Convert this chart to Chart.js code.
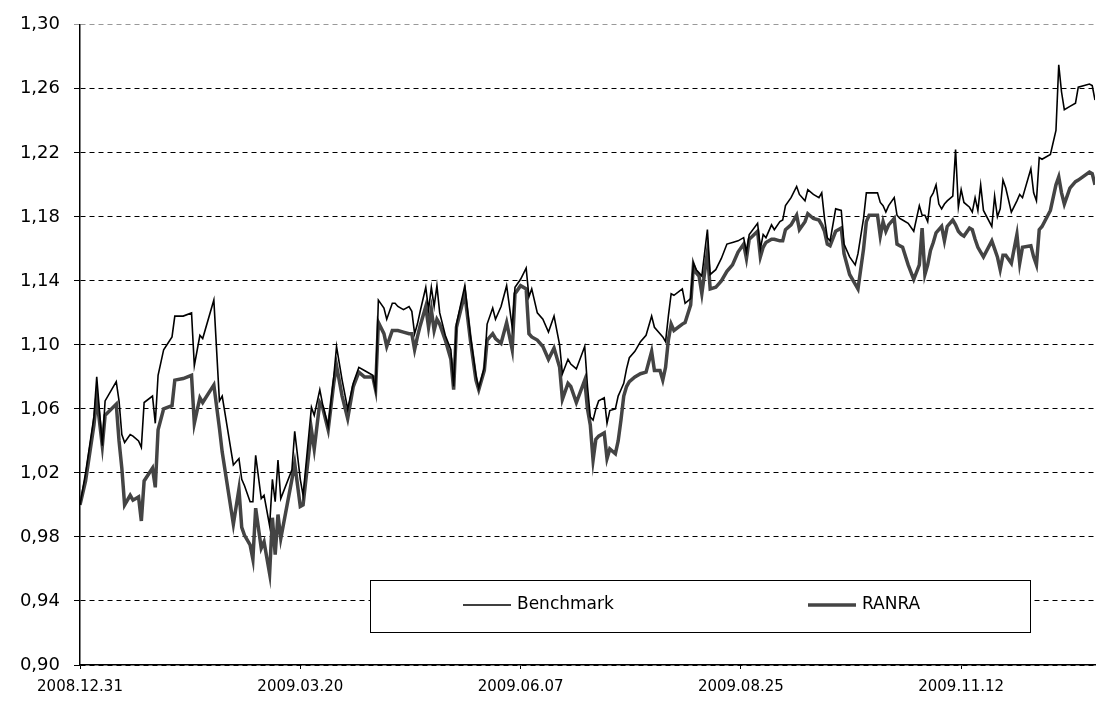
<!DOCTYPE html>
<html>
<head>
<meta charset="utf-8">
<script src="https://cdn.jsdelivr.net/npm/chart.js@4.4.0/dist/chart.umd.min.js"></script>
<style>
  body { margin: 0; background: #fff; }
  canvas { display: block; }
</style>
</head>
<body>
<canvas id="myChart" width="1097" height="704"></canvas>
<script>
// days since 2008.12.31
var days = [0, 2, 5, 6, 8, 9, 13, 14, 15, 16, 18, 19, 21, 22, 23, 26, 27, 28, 30, 33,
  34, 37, 40, 41, 43, 44, 48, 50, 51, 55, 57, 58, 59, 61, 62, 63, 65, 66, 68, 69,
  70, 71, 72, 76, 77, 79, 80, 83, 84, 86, 87, 89, 91, 92, 94, 96, 98, 100, 102, 105,
  106, 107, 109, 110, 112, 113, 114, 116, 118, 119, 120, 121, 122, 124, 125, 126, 127, 128, 129, 131,
  133, 134, 135, 138, 140, 142, 143, 145, 146, 148, 149, 151, 153, 155, 156, 158, 160, 161, 162, 164,
  166, 168, 170, 172, 173, 175, 176, 178, 181, 182, 183, 184, 185, 186, 188, 189, 190, 192, 193, 194,
  195, 196, 197, 199, 201, 203, 205, 206, 208, 209, 210, 211, 212, 213, 216, 217, 219, 220, 221, 222,
  223, 225, 226, 228, 230, 232, 234, 236, 238, 239, 240, 243, 244, 245, 246, 248, 249, 251, 252, 253,
  255, 257, 258, 260, 261, 263, 265, 266, 267, 268, 269, 271, 273, 274, 276, 278, 279, 281, 282, 283,
  286, 287, 288, 289, 290, 292, 293, 294, 295, 297, 299, 301, 302, 303, 304, 305, 306, 307, 308, 309,
  310, 311, 313, 314, 315, 316, 317, 319, 320, 321, 322, 323, 324, 327, 328, 329, 330, 331, 332, 334,
  336, 337, 338, 341, 342, 343, 344, 345, 348, 350, 351, 352, 353, 355, 357, 358, 362, 363, 364];

var benchmark = [1.000, 1.020, 1.055, 1.080, 1.037, 1.065, 1.077, 1.065, 1.044, 1.039, 1.044, 1.043, 1.040, 1.036, 1.064, 1.068, 1.051, 1.081, 1.097, 1.105,
  1.118, 1.118, 1.120, 1.087, 1.106, 1.104, 1.128, 1.065, 1.068, 1.025, 1.029, 1.016, 1.012, 1.002, 1.002, 1.031, 1.004, 1.006, 0.987, 1.016,
  1.002, 1.028, 1.004, 1.022, 1.046, 1.016, 1.006, 1.061, 1.056, 1.072, 1.063, 1.049, 1.080, 1.099, 1.078, 1.060, 1.076, 1.086, 1.084, 1.081,
  1.072, 1.128, 1.123, 1.116, 1.126, 1.126, 1.124, 1.122, 1.124, 1.121, 1.107, 1.113, 1.121, 1.136, 1.122, 1.136, 1.124, 1.137, 1.120, 1.106,
  1.097, 1.074, 1.113, 1.137, 1.106, 1.081, 1.073, 1.086, 1.113, 1.123, 1.116, 1.124, 1.137, 1.111, 1.136, 1.141, 1.148, 1.130, 1.135, 1.120,
  1.116, 1.108, 1.118, 1.100, 1.082, 1.091, 1.088, 1.085, 1.099, 1.074, 1.055, 1.053, 1.060, 1.065, 1.067, 1.051, 1.059, 1.060, 1.068, 1.072,
  1.076, 1.085, 1.092, 1.096, 1.102, 1.106, 1.118, 1.111, 1.107, 1.105, 1.102, 1.118, 1.132, 1.131, 1.135, 1.126, 1.129, 1.151, 1.147, 1.145,
  1.143, 1.172, 1.144, 1.147, 1.154, 1.163, 1.164, 1.165, 1.167, 1.158, 1.169, 1.176, 1.160, 1.169, 1.167, 1.175, 1.172, 1.177, 1.178, 1.187,
  1.192, 1.199, 1.194, 1.190, 1.197, 1.194, 1.192, 1.195, 1.179, 1.167, 1.165, 1.185, 1.184, 1.163, 1.155, 1.150, 1.157, 1.179, 1.195, 1.195,
  1.195, 1.189, 1.187, 1.183, 1.187, 1.192, 1.181, 1.179, 1.178, 1.176, 1.171, 1.187, 1.181, 1.181, 1.177, 1.192, 1.195, 1.200, 1.188, 1.185,
  1.188, 1.190, 1.193, 1.222, 1.186, 1.197, 1.189, 1.186, 1.183, 1.192, 1.184, 1.200, 1.184, 1.174, 1.193, 1.180, 1.185, 1.203, 1.198, 1.183,
  1.190, 1.194, 1.192, 1.210, 1.195, 1.190, 1.217, 1.216, 1.219, 1.234, 1.275, 1.258, 1.247, 1.249, 1.251, 1.261, 1.263, 1.262, 1.253];

var ranra = [1.000, 1.015, 1.050, 1.067, 1.037, 1.056, 1.063, 1.040, 1.023, 1.000, 1.006, 1.003, 1.005, 0.990, 1.015, 1.023, 1.011, 1.047, 1.060, 1.062,
  1.078, 1.079, 1.081, 1.051, 1.067, 1.064, 1.075, 1.048, 1.033, 0.988, 1.010, 0.986, 0.981, 0.975, 0.966, 0.998, 0.973, 0.977, 0.957, 0.992,
  0.969, 0.994, 0.979, 1.016, 1.026, 0.999, 1.000, 1.047, 1.035, 1.064, 1.061, 1.047, 1.076, 1.087, 1.068, 1.054, 1.074, 1.083, 1.080, 1.080,
  1.072, 1.114, 1.107, 1.099, 1.109, 1.109, 1.109, 1.108, 1.107, 1.107, 1.097, 1.105, 1.112, 1.124, 1.111, 1.122, 1.109, 1.116, 1.113, 1.103,
  1.091, 1.072, 1.111, 1.132, 1.103, 1.078, 1.072, 1.084, 1.103, 1.107, 1.104, 1.101, 1.114, 1.097, 1.132, 1.137, 1.135, 1.107, 1.105, 1.103,
  1.099, 1.091, 1.098, 1.086, 1.066, 1.076, 1.074, 1.064, 1.078, 1.060, 1.050, 1.028, 1.041, 1.043, 1.045, 1.029, 1.035, 1.032, 1.040, 1.053,
  1.068, 1.074, 1.077, 1.080, 1.082, 1.083, 1.096, 1.084, 1.084, 1.078, 1.086, 1.103, 1.113, 1.109, 1.113, 1.114, 1.125, 1.150, 1.145, 1.143,
  1.132, 1.158, 1.135, 1.136, 1.140, 1.146, 1.150, 1.158, 1.163, 1.154, 1.166, 1.171, 1.155, 1.161, 1.164, 1.166, 1.166, 1.165, 1.165, 1.172,
  1.175, 1.181, 1.172, 1.177, 1.182, 1.179, 1.178, 1.175, 1.171, 1.163, 1.162, 1.171, 1.173, 1.157, 1.144, 1.138, 1.135, 1.160, 1.177, 1.181,
  1.181, 1.168, 1.177, 1.171, 1.175, 1.179, 1.163, 1.162, 1.161, 1.150, 1.141, 1.150, 1.173, 1.144, 1.150, 1.159, 1.164, 1.170, 1.172, 1.174,
  1.165, 1.174, 1.178, 1.175, 1.171, 1.169, 1.168, 1.173, 1.172, 1.166, 1.161, 1.158, 1.155, 1.165, 1.160, 1.155, 1.147, 1.156, 1.156, 1.151,
  1.169, 1.151, 1.161, 1.162, 1.155, 1.150, 1.172, 1.174, 1.184, 1.200, 1.205, 1.195, 1.188, 1.198, 1.202, 1.203, 1.208, 1.207, 1.200];

var xTickDays = [0, 79, 158, 237, 316];
var xTickLabels = ['2008.12.31', '2009.03.20', '2009.06.07', '2009.08.25', '2009.11.12'];
var yTicks = [0.90, 0.94, 0.98, 1.02, 1.06, 1.10, 1.14, 1.18, 1.22, 1.26, 1.30];

var fuente = "'DejaVu Sans', sans-serif";

// leyenda dentro del area, con recuadro
var leyenda = {
  id: 'leyenda',
  afterDraw: function (chart) {
    var ctx = chart.ctx;
    var x = 370, y = 580, w = 660, h = 52;
    ctx.save();
    ctx.fillStyle = '#fff';
    ctx.fillRect(x, y, w, h);
    ctx.strokeStyle = '#000';
    ctx.lineWidth = 1;
    ctx.strokeRect(x + 0.5, y + 0.5, w, h);
    var items = [{ ds: chart.data.datasets[0], x0: 463 }, { ds: chart.data.datasets[1], x0: 808 }];
    items.forEach(function (it) {
      var ly = y + 25;
      ctx.beginPath();
      ctx.strokeStyle = it.ds.borderColor;
      ctx.lineWidth = it.ds.borderWidth;
      ctx.moveTo(it.x0, ly);
      ctx.lineTo(it.x0 + 48, ly);
      ctx.stroke();
      ctx.fillStyle = '#000';
      ctx.font = '17px ' + fuente;
      ctx.textBaseline = 'middle';
      ctx.fillText(it.ds.label, it.x0 + 54, ly);
    });
    ctx.restore();
  }
};

var ctx = document.getElementById('myChart').getContext('2d');
var chart = new Chart(ctx, {
  type: 'line',
  data: {
    datasets: [{
      label: 'Benchmark',
      data: days.map(function (d, i) { return { x: d, y: benchmark[i] }; }),
      borderColor: '#000',
      borderWidth: 1.6,
      pointRadius: 0,
      tension: 0
    }, {
      label: 'RANRA',
      data: days.map(function (d, i) { return { x: d, y: ranra[i] }; }),
      borderColor: '#444',
      borderWidth: 3.5,
      pointRadius: 0,
      tension: 0
    }]
  },
  options: {
    responsive: false,
    animation: false,
    layout: { padding: { top: 18, right: 2, left: 0, bottom: 0 } },
    plugins: { legend: { display: false }, tooltip: { enabled: false } },
    scales: {
      x: {
        type: 'linear',
        min: 0,
        max: 364,
        afterBuildTicks: function (axis) {
          axis.ticks = xTickDays.map(function (v) { return { value: v }; });
        },
        afterFit: function (axis) { axis.height = 39; },
        ticks: {
          autoSkip: false,
          maxRotation: 0,
          padding: 9,
          color: '#000',
          font: { family: fuente, size: 15 },
          callback: function (v) { return xTickLabels[xTickDays.indexOf(v)]; }
        },
        grid: { drawOnChartArea: false, tickLength: 4, color: '#000' },
        border: { color: '#000', width: 1.5 }
      },
      y: {
        min: 0.9,
        max: 1.3,
        afterBuildTicks: function (axis) {
          axis.ticks = yTicks.map(function (v) { return { value: v }; });
        },
        afterFit: function (axis) { axis.width = 80; },
        ticks: {
          padding: 14,
          color: '#000',
          font: { family: fuente, size: 18 },
          callback: function (v) { return v.toFixed(2).replace('.', ','); }
        },
        grid: {
          tickLength: 6,
          lineWidth: 1,
          color: function (c) { return c.tick && c.tick.value > 1.29 ? '#999' : '#000'; }
        },
        border: { color: '#000', width: 1.5, dash: [5, 4] }
      }
    }
  },
  plugins: [leyenda]
});
</script>
</body>
</html>
